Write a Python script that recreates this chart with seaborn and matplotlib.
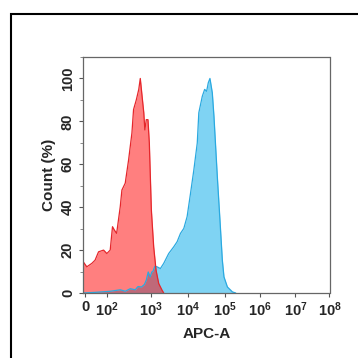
"""
Flow cytometry overlay histogram (APC-A), recreated with seaborn.
"""
import matplotlib
matplotlib.use("Agg")

import matplotlib.pyplot as plt
import numpy as np
import seaborn as sns
from matplotlib.patches import Rectangle
from matplotlib.ticker import FixedLocator, MultipleLocator

# ---------------------------------------------------------------------------
# Data
# ---------------------------------------------------------------------------

RED_X = [-8, 8, 31, 46, 62, 85, 100, 119, 134, 148, 166, 200, 218, 259, 308,
         366, 398, 459, 521, 564, 619, 676, 714, 769, 839, 900, 1000, 1157,
         1340, 1585, 1950, 2163]
RED_Y = [14.5, 12.2, 13.8, 15.3, 19.2, 20, 18.4, 20, 30.9, 29.3, 27.8, 40.2,
         48, 51.2, 62, 74.6, 85.5, 90, 94.9, 100, 91.7, 84, 76, 80.8, 80.8,
         70, 38.7, 21.5, 10.6, 4.4, 1.3, 0]

BLUE_X = [-8, 46, 119, 200, 259, 336, 435, 500, 600, 700, 769, 850, 940, 1030,
          1100, 1250, 1429, 1758, 2163, 2953, 4035, 5000, 6170, 7590, 9330,
          11570, 14260, 17680, 19500, 24300, 28200, 31900, 35500, 39400,
          45700, 50700, 62700, 74100, 86100, 95500, 119400, 166000, 206000]
BLUE_Y = [0, 0.3, 0.8, 1.5, 0.8, 2, 1.5, 3, 2.8, 4, 6, 9.8, 7.5, 9.8,
          10, 12.5, 12.2, 11.4, 13.8, 18.4, 21.5, 23.9, 27.8, 30.1, 35.6,
          46.5, 57.4, 69.9, 84, 91.7, 94.9, 94, 98, 100,
          93.3, 82.4, 54.3, 34, 15.3, 7.5, 2.8, 0.5, 0]

X_TICKS = [0, 1e2, 1e3, 1e4, 1e5, 1e6, 1e7, 1e8]
X_TICK_LABELS = ["0"] + [r"$\mathbf{10^{%d}}$" % e for e in range(2, 9)]
Y_TICKS = [0, 20, 40, 60, 80, 100]

# Display mapping of the cytometer axis (linear below 100, log above,
# decade widths as drawn by the acquisition software)
H_ANCHOR = np.array([-1, 0, 1, 2, 3, 4, 5, 6, 7], dtype=float)
POS_ANCHOR = np.array([-20, 1.7, 23.4, 67.7, 104.4, 140.7, 175.7, 211.0, 245.0])


def _h(x):
    x = np.asarray(x, dtype=float)
    return np.where(x < 100, x / 100.0, 1.0 + np.log10(np.maximum(x, 100.0) / 100.0))


def fwd(x):
    return np.interp(_h(x), H_ANCHOR, POS_ANCHOR)


def inv(p):
    h = np.interp(np.asarray(p, dtype=float), POS_ANCHOR, H_ANCHOR)
    return np.where(h < 1, h * 100.0, 100.0 * 10 ** (h - 1.0))


# ---------------------------------------------------------------------------
# Figure
# ---------------------------------------------------------------------------

sns.set_style("ticks")
plt.rcParams["font.family"] = ["Liberation Sans", "DejaVu Sans"]
plt.rcParams["mathtext.fontset"] = "custom"
plt.rcParams["mathtext.rm"] = "Liberation Sans"
plt.rcParams["mathtext.bf"] = "Liberation Sans:bold"

W = H = 358
fig = plt.figure(figsize=(3.58, 3.58), dpi=100)
ax = fig.add_axes([83.3 / W, (H - 293) / H, (329.5 - 83.3) / W, (293 - 57) / H])
ax.set_xscale("function", functions=(fwd, inv))

blue_fill, blue_edge = "#00A8E8", "#2AA9E0"
red_fill, red_edge = "#FF0000", "#E5262B"

ax.fill_between(BLUE_X, BLUE_Y, color=blue_fill, alpha=0.5, linewidth=0)
sns.lineplot(x=BLUE_X, y=BLUE_Y, ax=ax, color=blue_edge, linewidth=0.9,
             estimator=None)
ax.fill_between(RED_X, RED_Y, color=red_fill, alpha=0.5, linewidth=0)
sns.lineplot(x=RED_X, y=RED_Y, ax=ax, color=red_edge, linewidth=0.9,
             estimator=None)

ax.set_xlim(-8, 1e8)
ax.set_ylim(0, 110)

ax.xaxis.set_major_locator(FixedLocator(X_TICKS))
ax.set_xticklabels(X_TICK_LABELS)
ax.yaxis.set_major_locator(FixedLocator(Y_TICKS))
ax.yaxis.set_minor_locator(MultipleLocator(10))

ax.tick_params(axis="both", which="major", direction="out", length=3,
               width=0.8, color="#555555", labelsize=10.5)
ax.tick_params(axis="y", which="minor", direction="out", length=2,
               width=0.6, color="#777777")
ax.tick_params(axis="x", pad=2, labelsize=10.5)
ax.tick_params(axis="y", pad=3)
for lbl in ax.get_yticklabels():
    lbl.set_rotation(90)
    lbl.set_va("center")
    lbl.set_fontweight("bold")
for lbl in ax.get_xticklabels():
    lbl.set_fontweight("bold")

for side in ("left", "bottom", "top", "right"):
    ax.spines[side].set_color("#666666")
    ax.spines[side].set_linewidth(0.9)

ax.set_xlabel("APC-A", fontsize=11, fontweight="bold", labelpad=6)
ax.set_ylabel("Count (%)", fontsize=11, fontweight="bold", labelpad=3.5)

# outer panel frame (cropped on the right and bottom)
fig.add_artist(Rectangle((10.5 / W, -0.5), 2.0, (H - 14) / H + 0.5,
                         transform=fig.transFigure, fill=False,
                         edgecolor="black", linewidth=1.5))

fig.savefig("out.png", dpi=100)
